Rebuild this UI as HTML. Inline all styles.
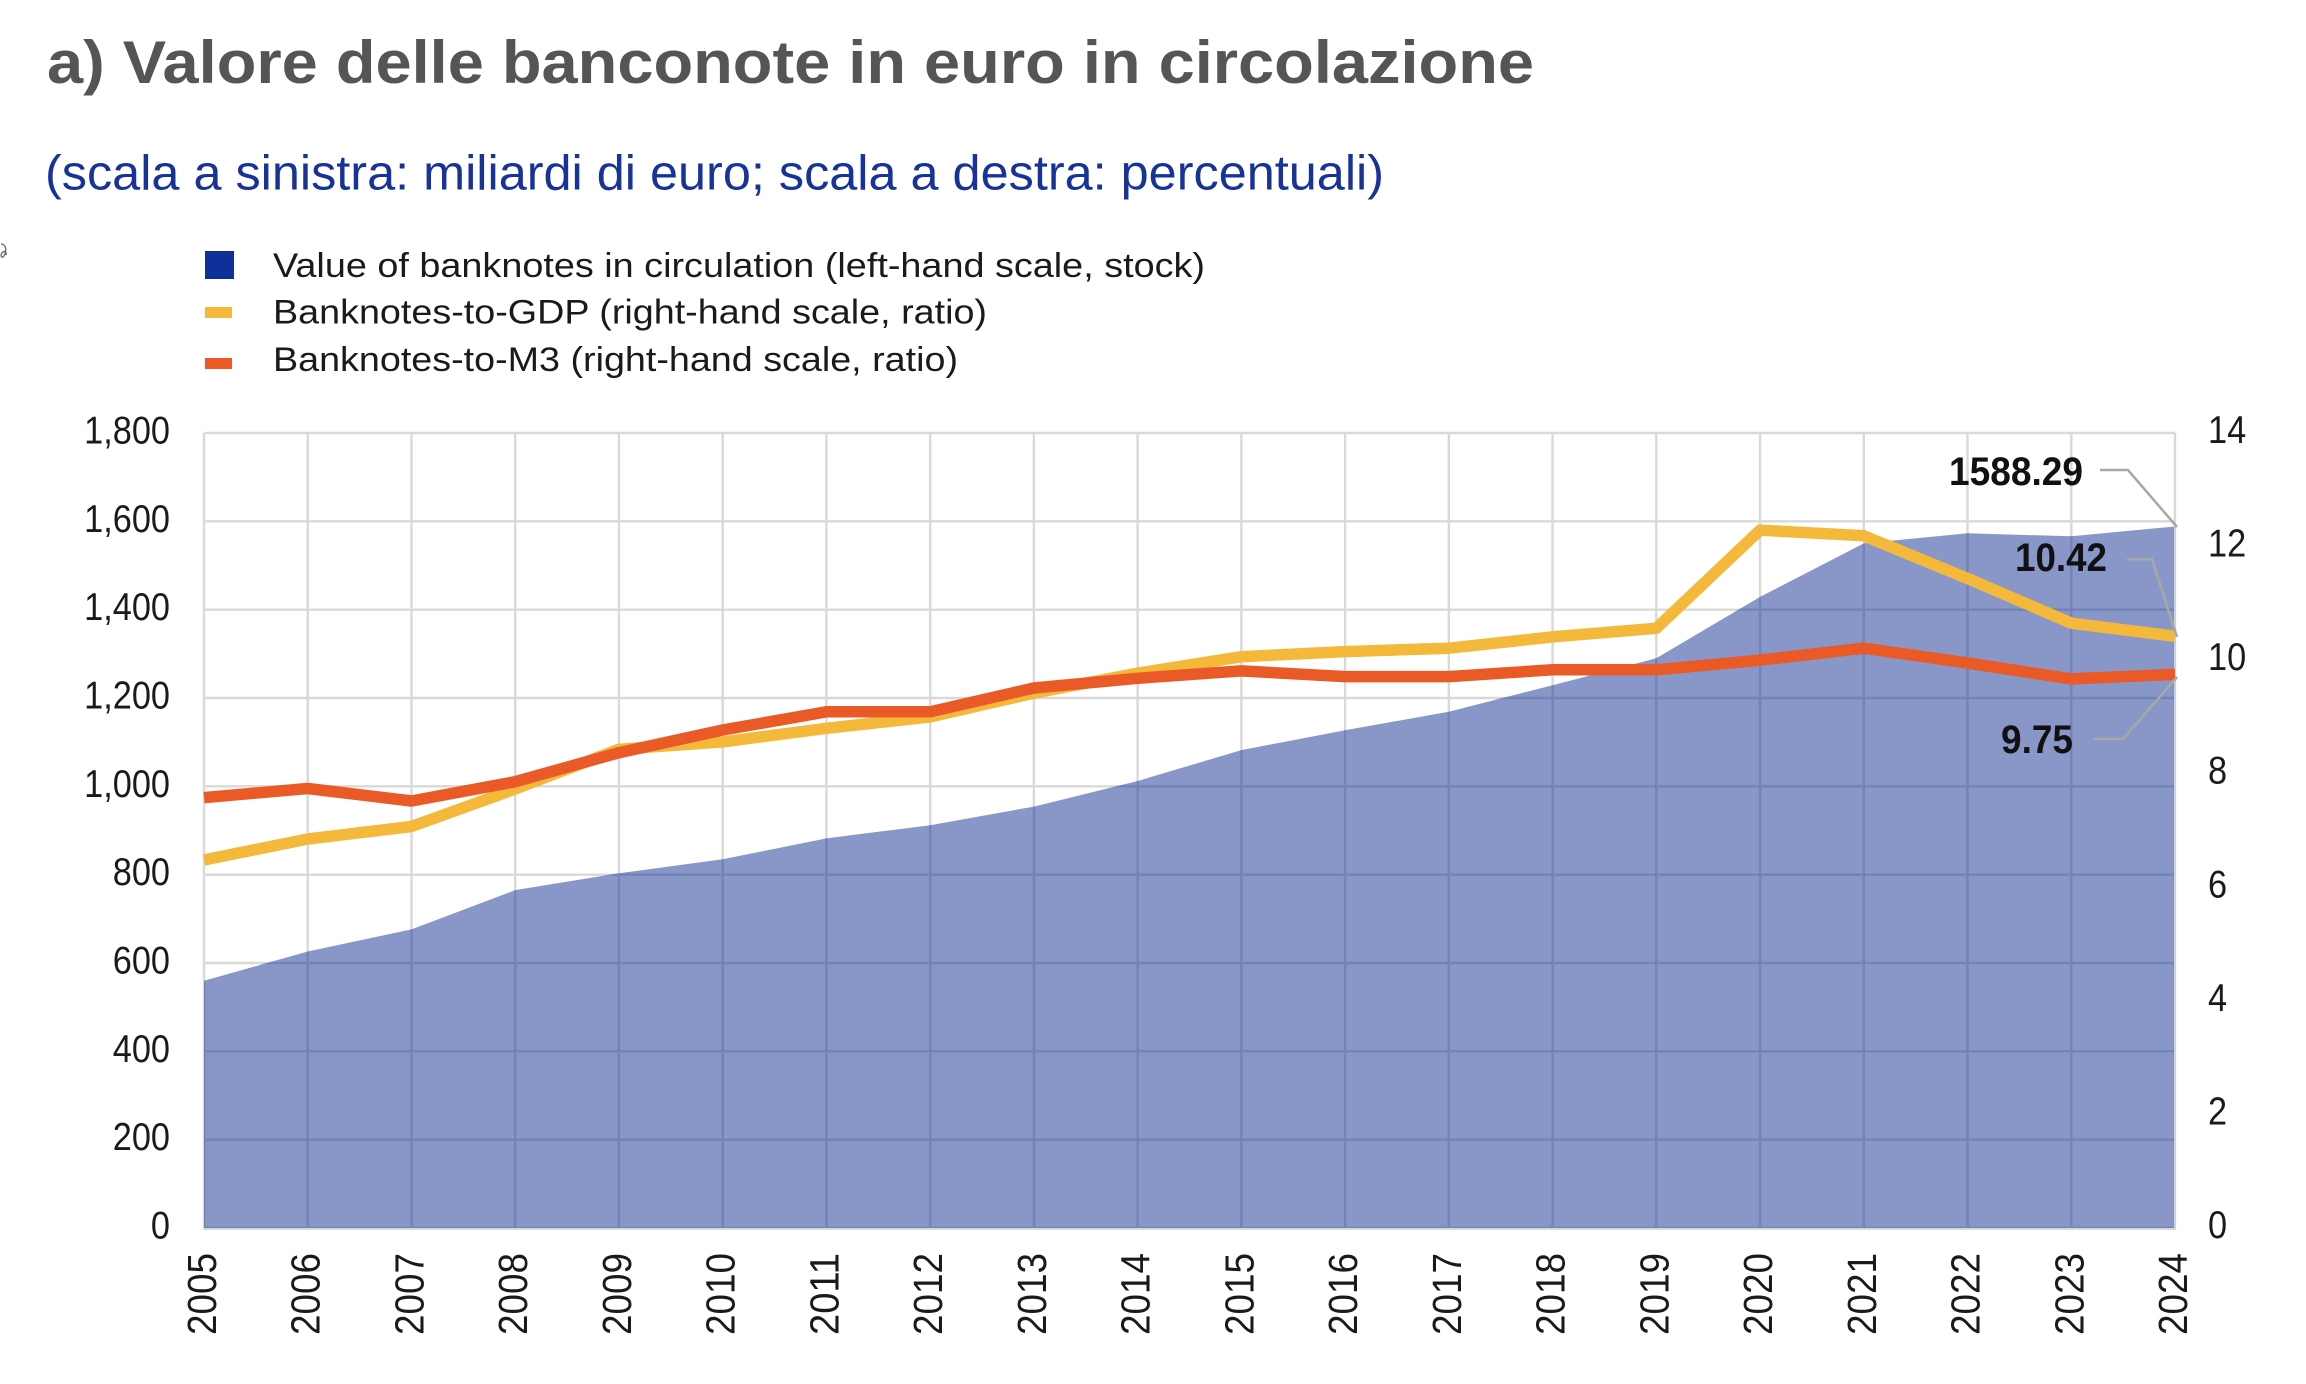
<!DOCTYPE html>
<html>
<head>
<meta charset="utf-8">
<style>
html,body{margin:0;padding:0;background:#fff;}
svg{display:block;}
text{font-family:"Liberation Sans",Arial,sans-serif;}
</style>
</head>
<body>
<svg width="2306" height="1384" viewBox="0 0 2306 1384" xmlns="http://www.w3.org/2000/svg">
<rect x="0" y="0" width="2306" height="1384" fill="#fff"/>

<!-- Title & subtitle -->
<text x="47" y="83" font-size="60" font-weight="bold" fill="#555555" textLength="1487" lengthAdjust="spacingAndGlyphs">a) Valore delle banconote in euro in circolazione</text>
<text x="45" y="189.5" font-size="49" fill="#17339a" textLength="1339" lengthAdjust="spacingAndGlyphs">(scala a sinistra: miliardi di euro; scala a destra: percentuali)</text>

<!-- tiny mark at left edge -->
<path d="M1,244 C6,244 7,250 4,256 C2,259 0,256 2,253 C4,250 7,252 6,255" fill="none" stroke="#666" stroke-width="1.3"/>

<!-- Legend -->
<rect x="205" y="251" width="29" height="28" fill="#0f3099"/>
<rect x="205" y="307" width="27" height="11" fill="#f4b93b"/>
<rect x="205" y="358" width="27" height="11" fill="#ea5a27"/>
<text x="273" y="277" font-size="34" fill="#1a1a1a" textLength="932" lengthAdjust="spacingAndGlyphs">Value of banknotes in circulation (left-hand scale, stock)</text>
<text x="273" y="323.5" font-size="34" fill="#1a1a1a" textLength="714" lengthAdjust="spacingAndGlyphs">Banknotes-to-GDP (right-hand scale, ratio)</text>
<text x="273" y="371" font-size="34" fill="#1a1a1a" textLength="685" lengthAdjust="spacingAndGlyphs">Banknotes-to-M3 (right-hand scale, ratio)</text>

<defs>
<clipPath id="areaClip">
<polygon points="204,1228 204,980.7 307.7,951.5 411.5,929.4 515.2,890.1 618.9,873.3 722.7,859.2 826.4,838.4 930.2,825.2 1033.9,806.6 1137.6,781.0 1241.4,750.1 1345.1,730.2 1448.8,711.7 1552.6,685.2 1656.3,658.2 1760.1,596.9 1863.8,543.4 1967.5,533.3 2071.3,536.3 2175,526.5 2175,1228"/>
</clipPath>
<g id="grid">
<line x1="204" y1="433" x2="2175" y2="433"/>
<line x1="204" y1="521.3" x2="2175" y2="521.3"/>
<line x1="204" y1="609.7" x2="2175" y2="609.7"/>
<line x1="204" y1="698" x2="2175" y2="698"/>
<line x1="204" y1="786.3" x2="2175" y2="786.3"/>
<line x1="204" y1="874.7" x2="2175" y2="874.7"/>
<line x1="204" y1="963" x2="2175" y2="963"/>
<line x1="204" y1="1051.3" x2="2175" y2="1051.3"/>
<line x1="204" y1="1139.7" x2="2175" y2="1139.7"/>
<line x1="204" y1="1228" x2="2175" y2="1228"/>
<line x1="204" y1="433" x2="204" y2="1228"/>
<line x1="307.7" y1="433" x2="307.7" y2="1228"/>
<line x1="411.5" y1="433" x2="411.5" y2="1228"/>
<line x1="515.2" y1="433" x2="515.2" y2="1228"/>
<line x1="618.9" y1="433" x2="618.9" y2="1228"/>
<line x1="722.7" y1="433" x2="722.7" y2="1228"/>
<line x1="826.4" y1="433" x2="826.4" y2="1228"/>
<line x1="930.2" y1="433" x2="930.2" y2="1228"/>
<line x1="1033.9" y1="433" x2="1033.9" y2="1228"/>
<line x1="1137.6" y1="433" x2="1137.6" y2="1228"/>
<line x1="1241.4" y1="433" x2="1241.4" y2="1228"/>
<line x1="1345.1" y1="433" x2="1345.1" y2="1228"/>
<line x1="1448.8" y1="433" x2="1448.8" y2="1228"/>
<line x1="1552.6" y1="433" x2="1552.6" y2="1228"/>
<line x1="1656.3" y1="433" x2="1656.3" y2="1228"/>
<line x1="1760.1" y1="433" x2="1760.1" y2="1228"/>
<line x1="1863.8" y1="433" x2="1863.8" y2="1228"/>
<line x1="1967.5" y1="433" x2="1967.5" y2="1228"/>
<line x1="2071.3" y1="433" x2="2071.3" y2="1228"/>
<line x1="2175" y1="433" x2="2175" y2="1228"/>
</g>
</defs>

<!-- light grid -->
<use href="#grid" stroke="#d9d9d9" stroke-width="2.4"/>

<!-- area -->
<polygon fill="#8897c8" points="204,1228 204,980.7 307.7,951.5 411.5,929.4 515.2,890.1 618.9,873.3 722.7,859.2 826.4,838.4 930.2,825.2 1033.9,806.6 1137.6,781.0 1241.4,750.1 1345.1,730.2 1448.8,711.7 1552.6,685.2 1656.3,658.2 1760.1,596.9 1863.8,543.4 1967.5,533.3 2071.3,536.3 2175,526.5 2175,1228"/>

<!-- grid over area -->
<g clip-path="url(#areaClip)">
<use href="#grid" stroke="#7183b7" stroke-width="2.4"/>
</g>
<line x1="2175" y1="526" x2="2175" y2="1229" stroke="#d0d0d0" stroke-width="2"/>
<line x1="203" y1="1229" x2="2176" y2="1229" stroke="#d9d9d9" stroke-width="2"/>

<!-- Banknotes-to-GDP -->
<polyline fill="none" stroke="#f4b93b" stroke-width="11.5" stroke-linejoin="round" points="204,860.0 307.7,839.0 411.5,826.5 515.2,789.0 618.9,749.3 722.7,741.9 826.4,728.3 930.2,716.9 1033.9,693.1 1137.6,673.2 1241.4,656.7 1345.1,651.6 1448.8,648.2 1552.6,636.9 1656.3,628.3 1760.1,530.1 1863.8,535.8 1967.5,578.4 2071.3,623.2 2175,636.3"/>
<!-- Banknotes-to-M3 -->
<polyline fill="none" stroke="#ea5a27" stroke-width="11.5" stroke-linejoin="round" points="204,797.6 307.7,788.5 411.5,801.0 515.2,781.7 618.9,752.7 722.7,730.0 826.4,711.8 930.2,711.8 1033.9,688.0 1137.6,678.3 1241.4,670.9 1345.1,676.6 1448.8,676.6 1552.6,669.8 1656.3,669.8 1760.1,660.1 1863.8,648.2 1967.5,663.0 2071.3,678.9 2175,674.3"/>

<!-- leader lines -->
<g fill="none" stroke="#a8a8a8" stroke-width="2.5">
<polyline points="2100,470 2128,470 2177,527"/>
<polyline points="2127,559.3 2152,559.3 2177,637"/>
<polyline points="2094,739 2123,739 2177,677"/>
</g>

<!-- annotations -->
<g font-size="39.5" font-weight="bold" fill="#111">
<text x="1949" y="485" textLength="134" lengthAdjust="spacingAndGlyphs">1588.29</text>
<text x="2015" y="571" textLength="92" lengthAdjust="spacingAndGlyphs">10.42</text>
<text x="2001" y="753" textLength="72" lengthAdjust="spacingAndGlyphs">9.75</text>
</g>

<!-- left axis labels -->
<g font-size="39" fill="#1a1a1a" text-anchor="end">
<text transform="translate(170,443.5) scale(0.88,1)">1,800</text>
<text transform="translate(170,531.8) scale(0.88,1)">1,600</text>
<text transform="translate(170,620.2) scale(0.88,1)">1,400</text>
<text transform="translate(170,708.5) scale(0.88,1)">1,200</text>
<text transform="translate(170,796.8) scale(0.88,1)">1,000</text>
<text transform="translate(170,885.2) scale(0.88,1)">800</text>
<text transform="translate(170,973.5) scale(0.88,1)">600</text>
<text transform="translate(170,1061.8) scale(0.88,1)">400</text>
<text transform="translate(170,1150.2) scale(0.88,1)">200</text>
<text transform="translate(170,1238.5) scale(0.88,1)">0</text>
</g>

<!-- right axis labels -->
<g font-size="39" fill="#1a1a1a">
<text transform="translate(2208,443) scale(0.88,1)">14</text>
<text transform="translate(2208,556.6) scale(0.88,1)">12</text>
<text transform="translate(2208,670.1) scale(0.88,1)">10</text>
<text transform="translate(2208,783.7) scale(0.88,1)">8</text>
<text transform="translate(2208,897.3) scale(0.88,1)">6</text>
<text transform="translate(2208,1010.9) scale(0.88,1)">4</text>
<text transform="translate(2208,1124.4) scale(0.88,1)">2</text>
<text transform="translate(2208,1238) scale(0.88,1)">0</text>
</g>

<!-- x axis labels -->
<g font-size="41" fill="#1a1a1a" text-anchor="end">
<text transform="translate(216,1253) rotate(-90)" textLength="82" lengthAdjust="spacingAndGlyphs">2005</text>
<text transform="translate(319.7,1253) rotate(-90)" textLength="82" lengthAdjust="spacingAndGlyphs">2006</text>
<text transform="translate(423.5,1253) rotate(-90)" textLength="82" lengthAdjust="spacingAndGlyphs">2007</text>
<text transform="translate(527.2,1253) rotate(-90)" textLength="82" lengthAdjust="spacingAndGlyphs">2008</text>
<text transform="translate(630.9,1253) rotate(-90)" textLength="82" lengthAdjust="spacingAndGlyphs">2009</text>
<text transform="translate(734.7,1253) rotate(-90)" textLength="82" lengthAdjust="spacingAndGlyphs">2010</text>
<text transform="translate(838.4,1253) rotate(-90)" textLength="82" lengthAdjust="spacingAndGlyphs">2011</text>
<text transform="translate(942.2,1253) rotate(-90)" textLength="82" lengthAdjust="spacingAndGlyphs">2012</text>
<text transform="translate(1045.9,1253) rotate(-90)" textLength="82" lengthAdjust="spacingAndGlyphs">2013</text>
<text transform="translate(1149.6,1253) rotate(-90)" textLength="82" lengthAdjust="spacingAndGlyphs">2014</text>
<text transform="translate(1253.4,1253) rotate(-90)" textLength="82" lengthAdjust="spacingAndGlyphs">2015</text>
<text transform="translate(1357.1,1253) rotate(-90)" textLength="82" lengthAdjust="spacingAndGlyphs">2016</text>
<text transform="translate(1460.8,1253) rotate(-90)" textLength="82" lengthAdjust="spacingAndGlyphs">2017</text>
<text transform="translate(1564.6,1253) rotate(-90)" textLength="82" lengthAdjust="spacingAndGlyphs">2018</text>
<text transform="translate(1668.3,1253) rotate(-90)" textLength="82" lengthAdjust="spacingAndGlyphs">2019</text>
<text transform="translate(1772.1,1253) rotate(-90)" textLength="82" lengthAdjust="spacingAndGlyphs">2020</text>
<text transform="translate(1875.8,1253) rotate(-90)" textLength="82" lengthAdjust="spacingAndGlyphs">2021</text>
<text transform="translate(1979.5,1253) rotate(-90)" textLength="82" lengthAdjust="spacingAndGlyphs">2022</text>
<text transform="translate(2083.3,1253) rotate(-90)" textLength="82" lengthAdjust="spacingAndGlyphs">2023</text>
<text transform="translate(2187,1253) rotate(-90)" textLength="82" lengthAdjust="spacingAndGlyphs">2024</text>
</g>
</svg>
</body>
</html>
